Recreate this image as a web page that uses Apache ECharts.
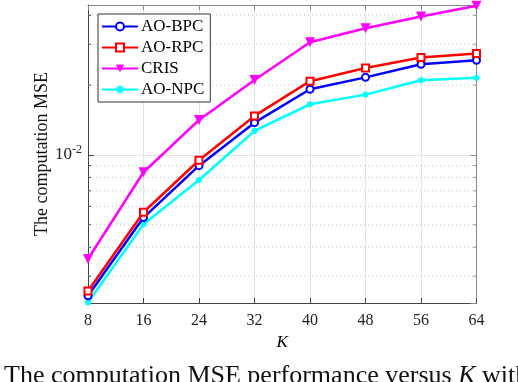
<!DOCTYPE html>
<html>
<head>
<meta charset="utf-8">
<script src="https://cdn.jsdelivr.net/npm/echarts@6/dist/echarts.min.js"></script>
<style>
html,body{margin:0;padding:0;background:#fff;}
#c{width:518px;height:382px;}
</style>
</head>
<body>
<div id="c"></div>
<script>
var K = [8, 16, 24, 32, 40, 48, 56, 64];
var aoBPC = [0.00247, 0.00537, 0.00899, 0.01378, 0.0192, 0.0216, 0.0246, 0.0256];
var aoRPC = [0.00259, 0.00566, 0.00949, 0.01473, 0.0208, 0.0237, 0.0263, 0.0274];
var cris  = [0.00356, 0.00842, 0.01415, 0.02105, 0.0306, 0.0352, 0.0395, 0.0440];
var aoNPC = [0.00231, 0.00503, 0.0078, 0.01269, 0.01654, 0.0182, 0.0210, 0.0215];
var minorTicks = [0.003, 0.004, 0.005, 0.006, 0.007, 0.008, 0.009, 0.02, 0.03, 0.04];
var yMin = 0.0023, yMax = 0.0443;

function pairs(arr){ return K.map(function(k,i){ return [k, arr[i]]; }); }

var font = 'Liberation Serif';
var chart = echarts.init(document.getElementById('c'), null, {renderer:'canvas'});
var asterisk = 'path://M0,-10L0,10M-10,0L10,0M-7,-7L7,7M-7,7L7,-7';

chart.setOption({
  animation: false,
  backgroundColor: '#fff',
  textStyle: {fontFamily: font},
  grid: {left: 88, right: 41.5, top: 5, bottom: 79, containLabel: false},
  legend: {
    left: 98, top: 14, orient: 'vertical',
    backgroundColor: '#fff', borderColor: '#333', borderWidth: 1, borderRadius: 0,
    padding: [4, 6, 4, 3],
    itemWidth: 36, itemHeight: 10, itemGap: 4,
    textStyle: {fontFamily: font, fontSize: 17, color: '#000', padding: [0,0,0,-2]},
    data: ['AO-BPC', 'AO-RPC', 'CRIS', 'AO-NPC']
  },
  xAxis: [{
    type: 'value', min: 8, max: 64, interval: 8, position: 'bottom',
    name: 'K', nameLocation: 'middle', nameGap: 27,
    nameTextStyle: {fontFamily: font, fontStyle: 'italic', fontSize: 17, color: '#000'},
    axisLine: {show: true, lineStyle: {color: '#444', width: 1}},
    axisTick: {inside: true, length: 5, lineStyle: {color: '#444'}},
    axisLabel: {fontFamily: font, fontSize: 16, color: '#222', margin: 10},
    splitLine: {show: true, lineStyle: {color: '#e3e3e3', width: 1}}
  }, {
    type: 'value', min: 8, max: 64, interval: 8, position: 'top',
    axisLine: {show: true, lineStyle: {color: '#888', width: 1}},
    axisTick: {inside: true, length: 5, lineStyle: {color: '#888'}},
    axisLabel: {show: false}, splitLine: {show: false}
  }],
  yAxis: [{
    type: 'log', logBase: 10, min: yMin, max: yMax, position: 'left',
    name: 'The computation MSE', nameLocation: 'middle', nameGap: 37, nameMoveOverlap: false,
    nameTextStyle: {fontFamily: font, fontSize: 18, color: '#111'},
    axisLine: {show: true, lineStyle: {color: '#444', width: 1}},
    axisTick: {inside: true, length: 6, lineStyle: {color: '#444'}},
    axisLabel: {
      fontFamily: font, fontSize: 17, color: '#222', margin: 6,
      showMinLabel: false, showMaxLabel: false,
      formatter: function(v){ return Math.abs(v - 0.01) < 1e-6 ? '{b|10}{s|-2}' : ''; },
      rich: {
        b: {fontFamily: font, fontSize: 17, color: '#222'},
        s: {fontFamily: font, fontSize: 12, color: '#222', verticalAlign: 'bottom', padding: [0,0,10,0]}
      }
    },
    splitLine: {show: true, lineStyle: {color: '#e3e3e3', width: 1}}
  }, {
    type: 'log', logBase: 10, min: yMin, max: yMax, position: 'right',
    axisLine: {show: true, lineStyle: {color: '#888', width: 1}},
    axisTick: {inside: true, length: 6, lineStyle: {color: '#888'}},
    axisLabel: {show: false}, splitLine: {show: false}
  }],
  series: [{
    type: 'custom', name: 'minor', silent: true, z: 1, clip: false,
    xAxisIndex: 0, yAxisIndex: 0,
    data: minorTicks.map(function(v){ return [8, v]; }),
    renderItem: function(params, api){
      var y = api.value(1);
      var p0 = api.coord([8, y]);
      var p1 = api.coord([64, y]);
      return {type: 'group', children: [
        {type: 'line', shape: {x1: p0[0], y1: p0[1], x2: p1[0], y2: p1[1]},
         style: {stroke: '#c8c8c8', lineWidth: 1, lineDash: [1, 3]}},
        {type: 'line', shape: {x1: p0[0], y1: p0[1], x2: p0[0] + 3, y2: p0[1]},
         style: {stroke: '#444', lineWidth: 1}},
        {type: 'line', shape: {x1: p1[0], y1: p1[1], x2: p1[0] - 3, y2: p1[1]},
         style: {stroke: '#888', lineWidth: 1}}
      ]};
    }
  }, {
    name: 'AO-BPC', type: 'line', z: 3, data: pairs(aoBPC),
    symbol: 'emptyCircle', symbolSize: 7,
    lineStyle: {color: '#0000ff', width: 2.5},
    itemStyle: {color: '#0000ff', borderColor: '#0000ff', borderWidth: 2}
  }, {
    name: 'AO-RPC', type: 'line', z: 4, data: pairs(aoRPC),
    symbol: 'emptyRect', symbolSize: 7,
    lineStyle: {color: '#ff0000', width: 2.5},
    itemStyle: {color: '#ff0000', borderColor: '#ff0000', borderWidth: 2.5}
  }, {
    name: 'CRIS', type: 'line', z: 5, data: pairs(cris),
    symbol: 'triangle', symbolRotate: 180, symbolSize: 10,
    lineStyle: {color: '#ff00ff', width: 2.5},
    itemStyle: {color: '#ff00ff'}
  }, {
    name: 'AO-NPC', type: 'line', z: 2, data: pairs(aoNPC),
    symbol: asterisk, symbolSize: 6,
    lineStyle: {color: '#00ffff', width: 2.5},
    itemStyle: {color: '#00ffff', borderColor: '#00ffff', borderWidth: 2}
  }],
  graphic: [{
    type: 'text', left: 4, top: 363,
    style: {
      text: '{n|The computation MSE performance versus }{i|K}{n| with}',
      rich: {
        n: {fontFamily: font, fontSize: 26, fill: '#111', color: '#111'},
        i: {fontFamily: font, fontSize: 26, fontStyle: 'italic', fill: '#111', color: '#111'}
      }
    }
  }]
});
</script>
</body>
</html>
